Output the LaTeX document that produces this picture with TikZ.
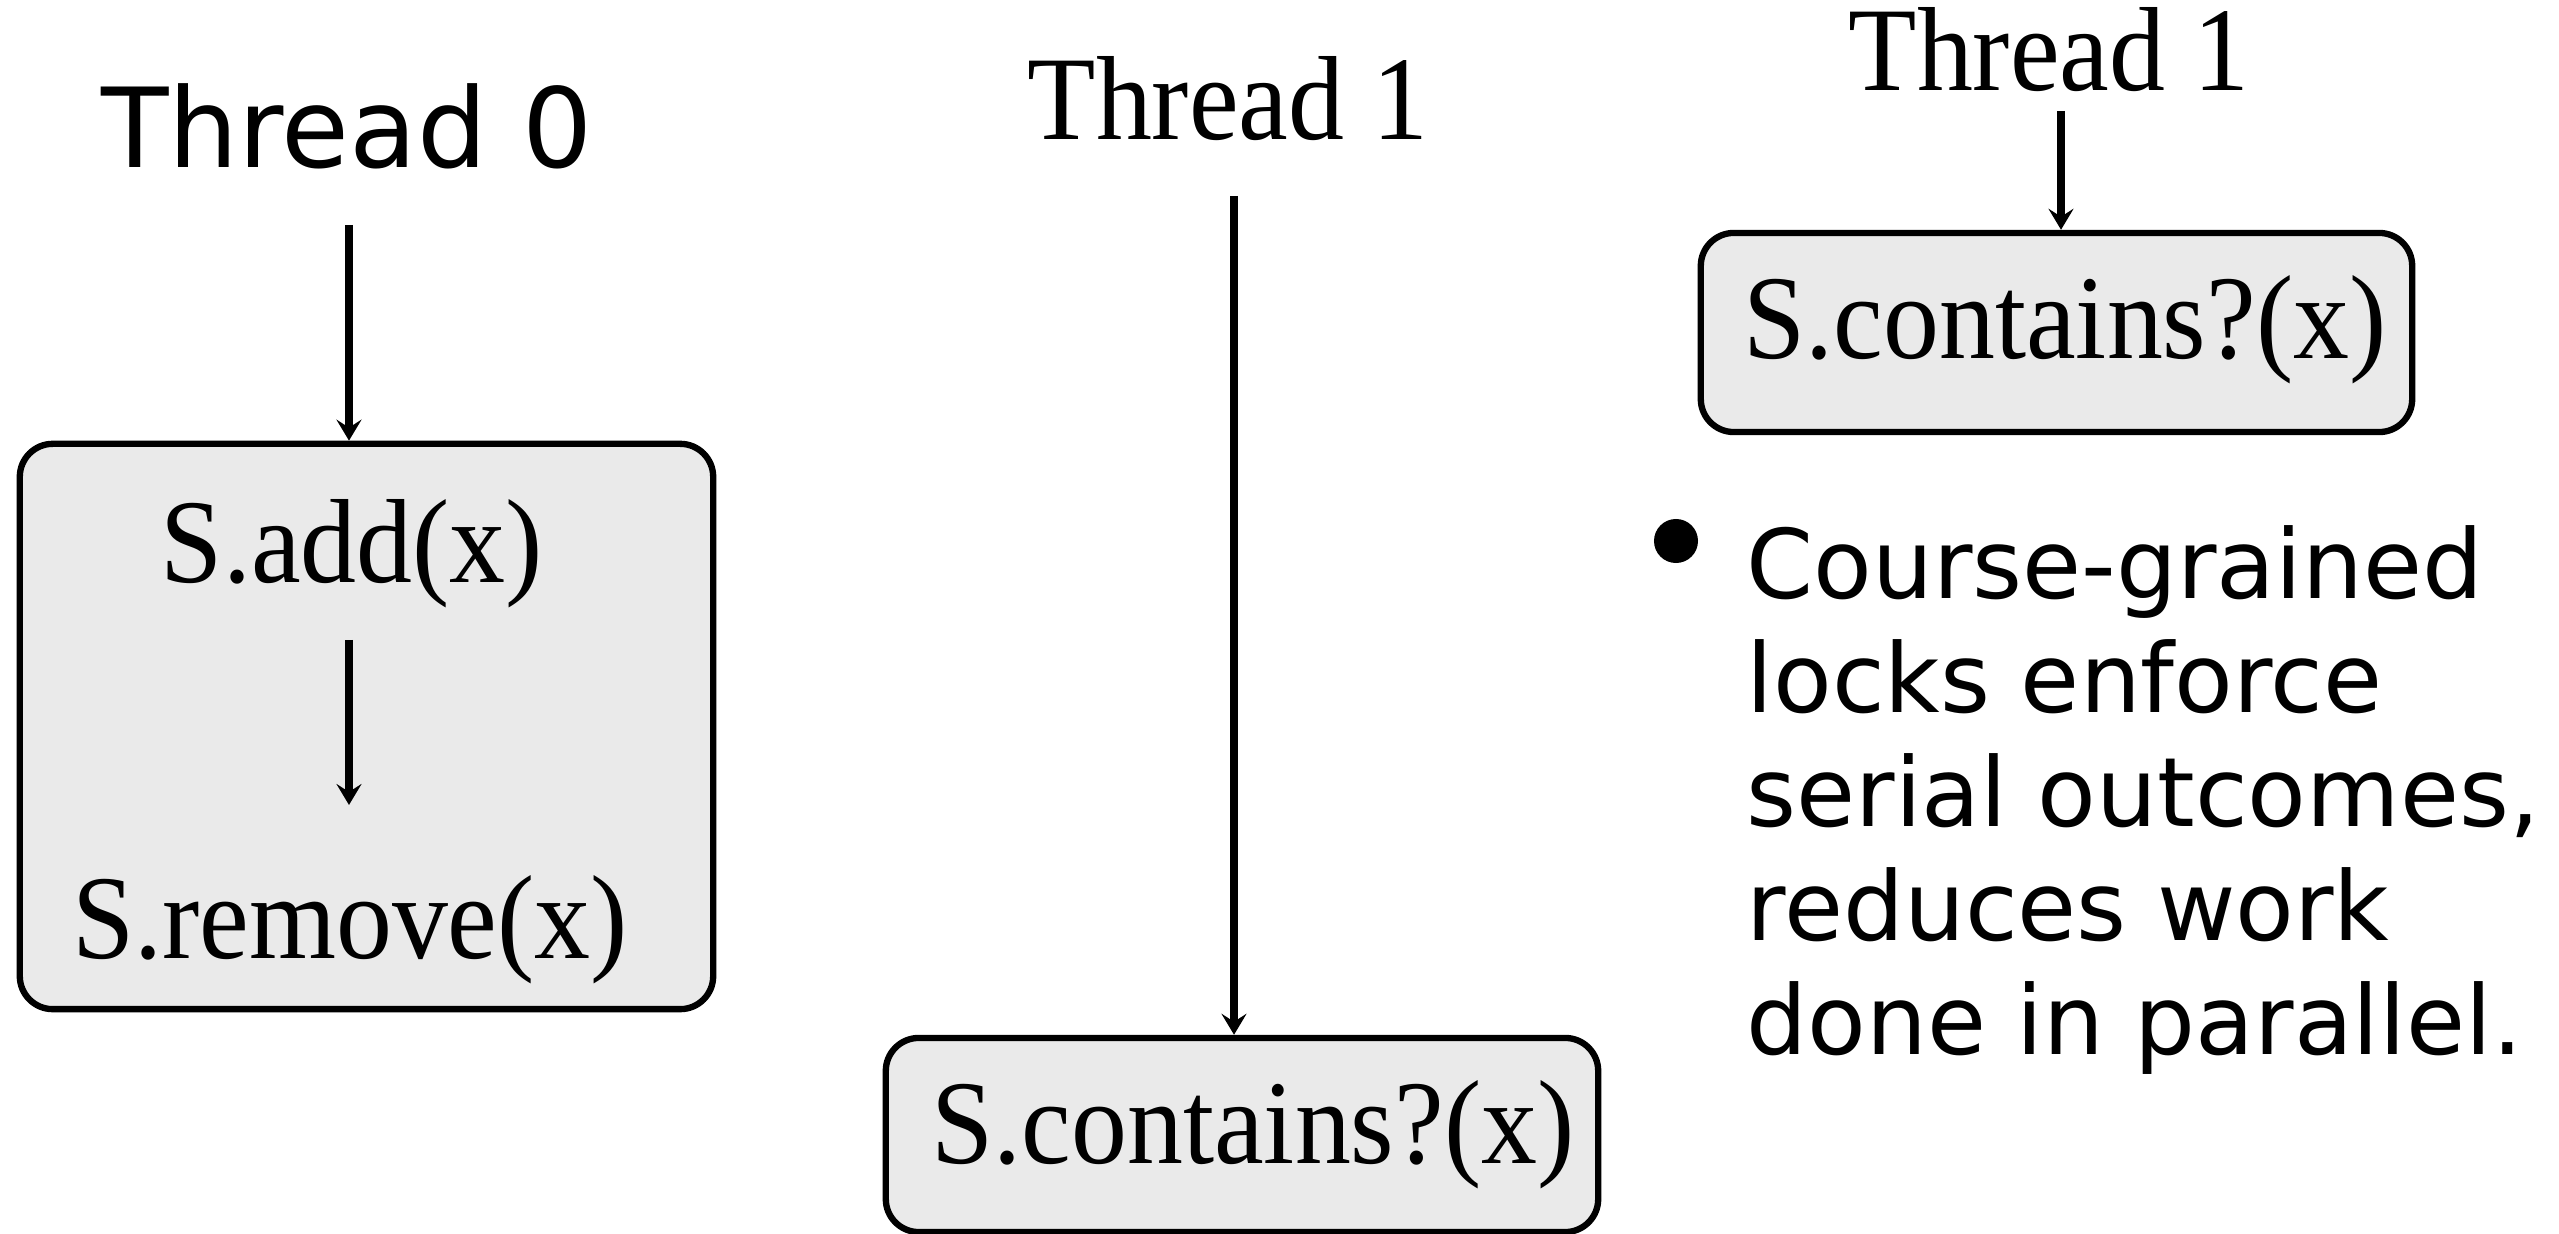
\documentclass[tikz,border=0pt]{standalone}
\usepackage{fontspec}
\usepackage{graphicx}
\setmainfont{Liberation Serif}
\newfontfamily\dejavu{DejaVu Sans}
\usetikzlibrary{arrows.meta}
\definecolor{boxgray}{HTML}{EAEAEA}
\newcommand{\talltext}[1]{\scalebox{1}[1.07]{#1}}
\tikzset{
  opbox/.style={draw=black, line width=1.8pt, fill=boxgray, rounded corners=0.33cm, inner sep=0pt},
  sertext/.style={font=\fontsize{31.8}{36}\selectfont, anchor=base, inner sep=0pt},
  sanstext/.style={font=\dejavu\fontsize{31.4}{36}\selectfont, anchor=base, inner sep=0pt},
  flow/.style={line width=2.2pt, -{Stealth[length=0.21cm,width=0.25cm,inset=0.08cm]}},
}
\begin{document}
\begin{tikzpicture}[x=0.01cm, y=-0.01cm]
\useasboundingbox (0,0) rectangle (2559,1234);
% boxes
\node[opbox, minimum width=6.93cm, minimum height=5.65cm] (b1) at (366.5,726.5) {};
\node[opbox, minimum width=7.12cm, minimum height=1.94cm] (b2) at (1242,1135) {};
\node[opbox, minimum width=7.11cm, minimum height=1.99cm] (b3) at (2056.5,332.5) {};
% labels
\node[sanstext] (t0) at (347,168) {Thread 0};
\node[sertext] (t1a) at (1228,140) {\talltext{Thread 1}};
\node[sertext] (t1b) at (2049,91) {\talltext{Thread 1}};
\node[sertext] (add) at (352,583) {\talltext{S.add(x)}};
\node[sertext] (rem) at (350,959) {\talltext{S.remove(x)}};
\node[sertext] (c2) at (1253,1164) {\talltext{S.contains?(x)}};
\node[sertext] (c3) at (2065,359) {\talltext{S.contains?(x)}};
% arrow starts
\coordinate (s0) at (349,225);
\coordinate (s1) at (349,640);
\coordinate (e1) at (349,805);
\coordinate (s2) at (1234,196);
\coordinate (s3) at (2061,111);
\draw[flow] (s0) -- (s0 |- b1.north);
\draw[flow] (s1) -- (e1);
\draw[flow] (s2) -- (s2 |- b2.north);
\draw[flow] (s3) -- (s3 |- b3.north);
% bullet
\node[circle, fill=black, inner sep=0pt, minimum size=0.44cm] (bul) at (1676,541) {};
\node[font=\dejavu\fontsize{27.3}{32.4}\selectfont, align=left, anchor=north west, inner sep=0pt] (txt) at (1746,525)
  {Course-grained\\locks enforce\\serial outcomes,\\reduces work\\done in parallel.};
\end{tikzpicture}
\end{document}
